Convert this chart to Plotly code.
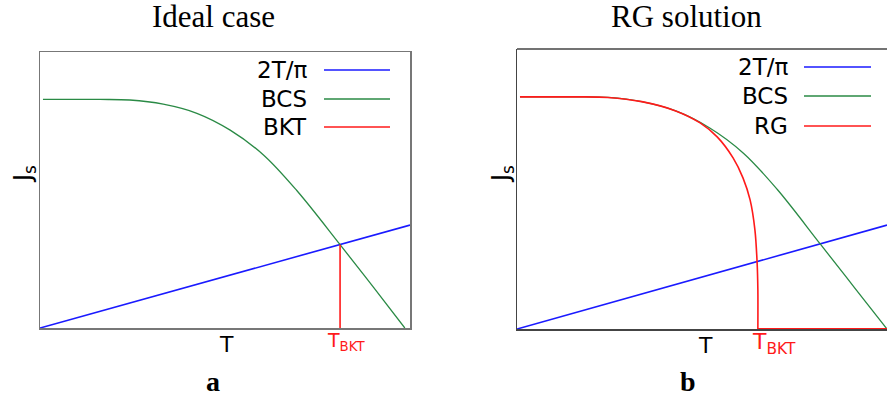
import plotly.graph_objects as go

W, H = 887, 399

# ---------------- data ----------------
titles = ["Ideal case", "RG solution"]
panel_labels = ["a", "b"]
legend_a = ["2T/π", "BCS", "BKT"]
legend_b = ["2T/π", "BCS", "RG"]
x_label = "T"
y_label = "J<sub>s</sub>"
tbkt_label = "T<sub>BKT</sub>"

# panel a (Ideal case)
t_lin_a = [0.0, 1.0]
j_lin_a = [0.0, 0.373]
t_bcs_a = [0.008, 0.162, 0.243, 0.333, 0.424, 0.514, 0.604, 0.694, 0.811, 0.901, 0.986]
j_bcs_a = [0.828, 0.828, 0.826, 0.811, 0.778, 0.717, 0.627, 0.498, 0.302, 0.148, 0.0]
t_bkt_a = [0.811, 0.811]
j_bkt_a = [0.0, 0.302]

# panel b (RG solution)
t_lin_b = [0.0, 1.0]
j_lin_b = [0.0, 0.371]
t_bcs_b = [0.008, 0.164, 0.246, 0.337, 0.429, 0.521, 0.612, 0.703, 0.820, 0.912, 1.0]
j_bcs_b = [0.829, 0.829, 0.827, 0.812, 0.779, 0.718, 0.628, 0.499, 0.303, 0.148, 0.0]
t_rg_b = [0.008, 0.164, 0.246, 0.337, 0.429, 0.495, 0.541, 0.584, 0.611, 0.630, 0.643, 0.649, 0.651, 0.651]
j_rg_b = [0.829, 0.829, 0.827, 0.812, 0.779, 0.736, 0.686, 0.611, 0.539, 0.461, 0.354, 0.236, 0.139, 0.0]
t_rg_tail = [0.651, 1.0]
j_rg_tail = [0.0, 0.0]

# ---------------- style ----------------
BLUE = "#1a1aff"
GREEN = "#2a8a45"
RED = "#ff1a1a"
SANS = "DejaVu Sans"
SERIF = "Liberation Serif"


def px(x):
    return x / W


def py(y):
    return 1 - y / H


fig = go.Figure()

# panel a
fig.add_trace(go.Scatter(x=t_lin_a, y=j_lin_a, mode="lines", line=dict(color=BLUE, width=1.6),
                         xaxis="x", yaxis="y", name=legend_a[0]))
fig.add_trace(go.Scatter(x=t_bcs_a, y=j_bcs_a, mode="lines", line=dict(color=GREEN, width=1.3, shape="spline", smoothing=1.0),
                         xaxis="x", yaxis="y", name=legend_a[1]))
fig.add_trace(go.Scatter(x=t_bkt_a, y=j_bkt_a, mode="lines", line=dict(color=RED, width=1.6),
                         xaxis="x", yaxis="y", name=legend_a[2]))

# panel b
fig.add_trace(go.Scatter(x=t_lin_b, y=j_lin_b, mode="lines", line=dict(color=BLUE, width=1.6),
                         xaxis="x2", yaxis="y2", name=legend_b[0]))
fig.add_trace(go.Scatter(x=t_bcs_b, y=j_bcs_b, mode="lines", line=dict(color=GREEN, width=1.3, shape="spline", smoothing=1.0),
                         xaxis="x2", yaxis="y2", name=legend_b[1]))
fig.add_trace(go.Scatter(x=t_rg_b, y=j_rg_b, mode="lines", line=dict(color=RED, width=1.6, shape="spline", smoothing=0.8),
                         xaxis="x2", yaxis="y2", name=legend_b[2]))
fig.add_trace(go.Scatter(x=t_rg_tail, y=j_rg_tail, mode="lines", line=dict(color=RED, width=2.0),
                         xaxis="x2", yaxis="y2", name=legend_b[2]))

ax_common = dict(range=[0, 1], showgrid=False, zeroline=False, showticklabels=False, ticks="",
                 showline=True)

fig.update_layout(
    width=W, height=H,
    margin=dict(l=0, r=0, t=0, b=0),
    paper_bgcolor="white", plot_bgcolor="white",
    showlegend=False,
    hovermode=False,
    xaxis=dict(domain=[px(40), px(410)], anchor="y", mirror=True, linecolor="#777777", linewidth=1.5, **ax_common),
    yaxis=dict(domain=[py(328), py(52)], anchor="x", mirror=True, linecolor="#777777", linewidth=1.5, **ax_common),
    xaxis2=dict(domain=[px(517), 1.0], anchor="y2", mirror=False, linecolor="#444444", linewidth=1.5, **ax_common),
    yaxis2=dict(domain=[py(329), py(49)], anchor="x2", mirror=False, linecolor="#444444", linewidth=1.5, **ax_common),
)

# top frame line of panel b (its right edge lies outside the picture)
fig.add_shape(type="line", xref="x2 domain", yref="y2 domain", x0=0, x1=1.02, y0=1, y1=1,
              line=dict(color="#444444", width=1.5))

annotations = []


def ann(text, x, y, size, color="black", family=SANS, xanchor="center", angle=0):
    annotations.append(dict(text=text, x=px(x), y=py(y), xref="paper", yref="paper",
                            showarrow=False, xanchor=xanchor, yanchor="middle", textangle=angle,
                            font=dict(family=family, size=size, color=color)))


# titles and panel labels
ann(titles[0], 213, 16, 31, family=SERIF)
ann(titles[1], 686, 16, 31, family=SERIF)
ann("<b>%s</b>" % panel_labels[0], 213, 381, 28, family=SERIF)
ann("<b>%s</b>" % panel_labels[1], 688, 381, 28, family=SERIF)

# axis labels
ann(x_label, 226, 344, 22)
ann(x_label, 705, 345, 22)
ann(y_label, 24, 174, 24, angle=-90)
ann(y_label, 502, 174, 24, angle=-90)
ann(tbkt_label, 346, 341, 19, color=RED)
ann(tbkt_label, 774, 343, 22, color=RED)

# legends
leg_y_a = [70, 99, 127]
leg_y_b = [67, 96, 126]
cols = [BLUE, GREEN, RED]
for i in range(3):
    ann(legend_a[i], 309, leg_y_a[i], 23, xanchor="right")
    fig.add_shape(type="line", xref="paper", yref="paper", x0=px(324), x1=px(390),
                  y0=py(leg_y_a[i]), y1=py(leg_y_a[i]), line=dict(color=cols[i], width=1.5))
    ann(legend_b[i], 790, leg_y_b[i], 23, xanchor="right")
    fig.add_shape(type="line", xref="paper", yref="paper", x0=px(804), x1=px(871),
                  y0=py(leg_y_b[i]), y1=py(leg_y_b[i]), line=dict(color=cols[i], width=1.5))

fig.update_layout(annotations=annotations)

fig.write_html("out.html", config={"displayModeBar": False, "staticPlot": True},
               post_script="document.body.style.margin='0px';")
